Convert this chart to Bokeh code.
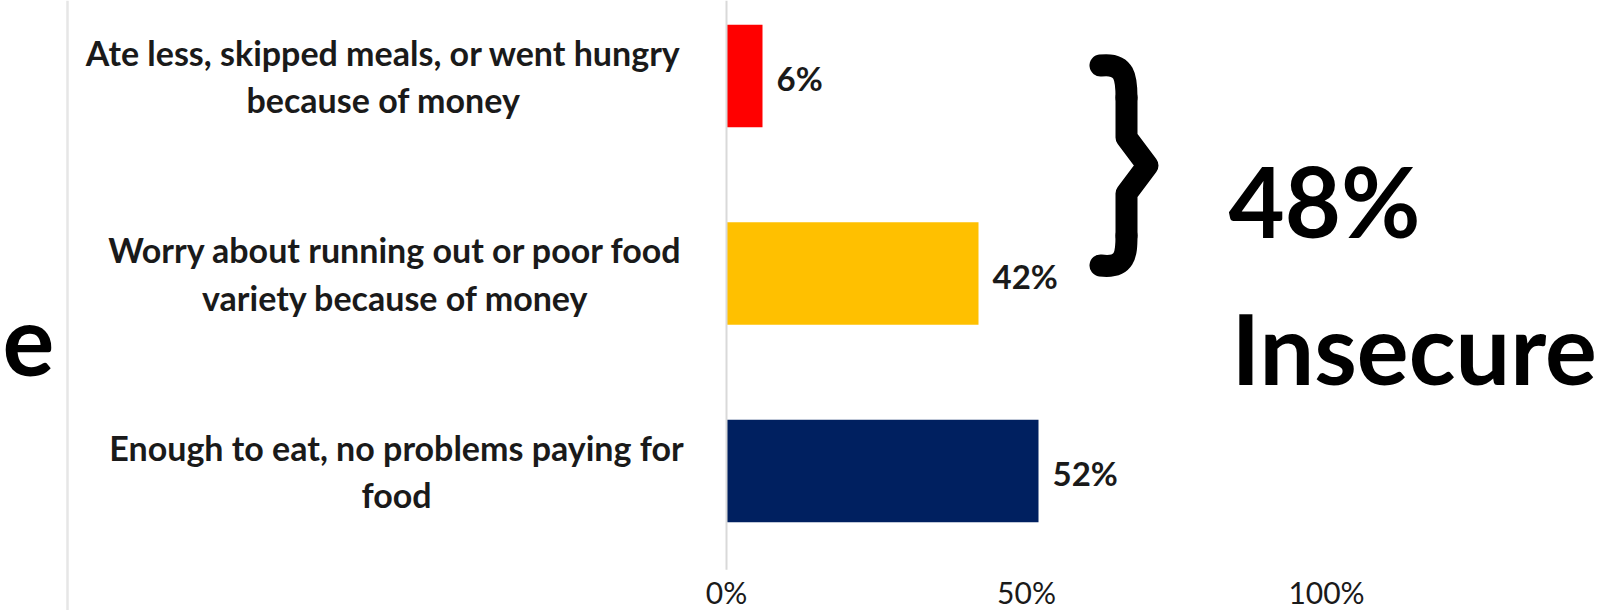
from bokeh.plotting import figure
from bokeh.models import Range1d, ColumnDataSource
from bokeh.core.properties import value
from bokeh.embed import file_html
from bokeh.resources import INLINE

# ---------------- data ----------------
categories = [
    "Ate less, skipped meals, or went hungry\nbecause of money",
    "Worry about running out or poor food\nvariety because of money",
    "Enough to eat, no problems paying for\nfood",
]
values = [6, 42, 52]
colors = ["#FF0000", "#FFC000", "#002060"]
x_ticks = [0, 50, 100]
x_tick_labels = ["0%", "50%", "100%"]
value_labels = [f"{v}%" for v in values]
insecure_total = values[0] + values[1]

# ---------------- layout ----------------
W, H = 1612, 610
ZERO_X = 726            # canvas x of the 0% line
PX_PER_PCT = 6.0
BAND = 197.5            # canvas px per category
BASE_Y = 470.5          # canvas y of bottom category centre

ypos = [len(categories) - 1 - i for i in range(len(categories))]

x_range = Range1d((0 - ZERO_X) / PX_PER_PCT, (W - ZERO_X) / PX_PER_PCT)
y_range = Range1d((BASE_Y - H) / BAND, BASE_Y / BAND)

p = figure(width=W, height=H, x_range=x_range, y_range=y_range,
           output_backend="svg", toolbar_location=None,
           x_axis_location=None, y_axis_location=None, min_border=0)
p.outline_line_color = None
p.grid.visible = False
p.background_fill_color = "white"
p.border_fill_color = "white"

# canvas-pixel ranges for decorations
p.extra_x_ranges = {"px": Range1d(0, W)}
p.extra_y_ranges = {"px": Range1d(H, 0)}

src = ColumnDataSource(dict(y=ypos, v=values, c=colors, cat=categories, lab=value_labels))

# bars
p.hbar(y="y", left=0, right="v", height=0.52, fill_color="c", line_color=None, source=src)

# category axis line
p.segment(x0=[0], y0=[-0.5], x1=[0], y1=[y_range.end], line_color="#D9D9D9", line_width=2)

# left grey separator
p.segment(x0=[67], y0=[0], x1=[67], y1=[H], x_range_name="px", y_range_name="px",
          line_color="#E6E6E6", line_width=2.5)

FONT = value("Lato")
TXT = "#1a1a1a"

# category labels
src_lab = ColumnDataSource(dict(x=[383, 395, 396], y=ypos, t=categories))
p.text(x="x", y="y", text="t", source=src_lab, x_range_name="px",
       text_font=FONT, text_font_size="34px", text_font_style="bold", text_align="center",
       text_baseline="middle", text_color=TXT, text_line_height=1.15)

# value labels
p.text(x="v", y="y", text="lab", source=src, x_offset=14, y_offset=2,
       text_font=FONT, text_font_size="33px", text_font_style="bold", text_align="left",
       text_baseline="middle", text_color=TXT)

# x tick labels
p.text(x=x_ticks, y=[H - 1] * len(x_ticks), text=x_tick_labels, y_range_name="px",
       text_font=FONT, text_font_size="30px", text_align="center",
       text_baseline="bottom", text_color=TXT)

# big annotations
BIG = "97px"
p.text(x=[1228], y=[200], text=[f"{insecure_total}%"], x_range_name="px", y_range_name="px",
       text_font=FONT, text_font_style="bold", text_font_size=BIG,
       text_align="left", text_baseline="alphabetic", text_color="black")
p.text(x=[1231], y=[347], text=["Insecure"], x_range_name="px", y_range_name="px",
       text_font=FONT, text_font_style="bold", text_font_size=BIG,
       text_align="left", text_baseline="alphabetic", text_color="black")
p.text(x=[2], y=[340], text=["e"], x_range_name="px", y_range_name="px",
       text_font=FONT, text_font_style="bold", text_font_size=BIG,
       text_align="left", text_baseline="alphabetic", text_color="black")

# brace
BW = 22
p.bezier(x0=[1100], y0=[65], x1=[1126], y1=[97], cx0=[1125], cy0=[62], cx1=[1126], cy1=[78],
         x_range_name="px", y_range_name="px", line_color="black", line_width=BW, line_cap="round")
p.line(x=[1126, 1126, 1147, 1126, 1126], y=[97, 137, 165, 193, 235],
       x_range_name="px", y_range_name="px", line_color="black", line_width=BW,
       line_cap="round", line_join="round")
p.bezier(x0=[1126], y0=[235], x1=[1100], y1=[265], cx0=[1126], cy0=[254], cx1=[1125], cy1=[268],
         x_range_name="px", y_range_name="px", line_color="black", line_width=BW, line_cap="round")

open("out.html", "w").write(file_html(p, INLINE))
